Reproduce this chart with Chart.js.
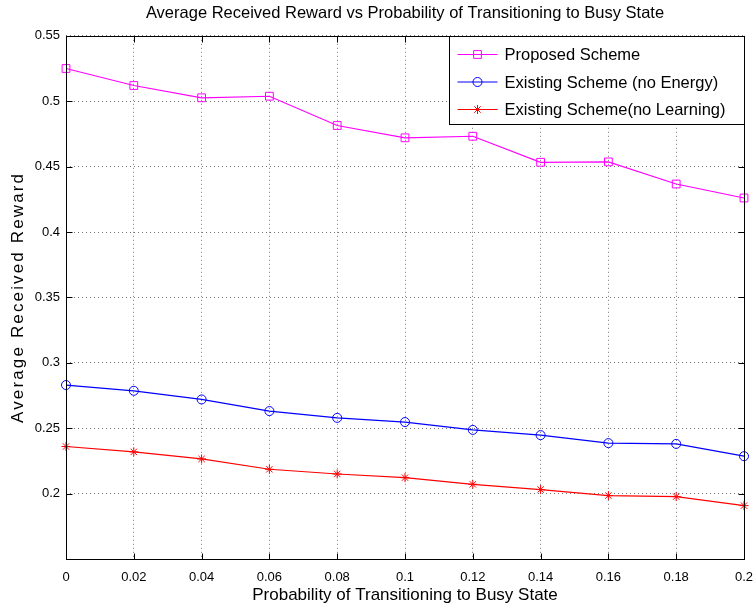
<!DOCTYPE html>
<html>
<head>
<meta charset="utf-8">
<title>Average Received Reward</title>
<script src="https://cdn.jsdelivr.net/npm/chart.js@4.4.0/dist/chart.umd.min.js"></script>
<style>
  html, body { margin: 0; padding: 0; background: #fff; }
  #box { width: 754px; height: 611px; }
</style>
</head>
<body>
<div id="box"><canvas id="graficoReward"></canvas></div>
<script>
// valores
const probLabels = ['0', '0.02', '0.04', '0.06', '0.08', '0.1', '0.12', '0.14', '0.16', '0.18', '0.2'];
const proposedScheme = [0.525, 0.512, 0.5026, 0.5038, 0.4814, 0.472, 0.4732, 0.4533, 0.4536, 0.4367, 0.426];
const noEnergyScheme = [0.283, 0.2786, 0.272, 0.2631, 0.2579, 0.2547, 0.2487, 0.2447, 0.2386, 0.238, 0.2286];
const noLearningScheme = [0.236, 0.2319, 0.2265, 0.2186, 0.215, 0.2122, 0.2071, 0.2031, 0.1985, 0.1977, 0.1908];
const yMin = 0.15;
const yMax = 0.55;
const yStep = 0.05;
const yTitulo = 'Average Received Reward';

const fonte = '"Liberation Sans", Arial, sans-serif';
Chart.defaults.font.family = fonte;
Chart.defaults.color = '#000';

function desenhaMarcador(ctx, estilo, x, y, r) {
    ctx.beginPath();
    if (estilo == 'rect') {
        const s = r * Math.SQRT1_2;
        ctx.rect(x - s, y - s, 2 * s, 2 * s);
    } else if (estilo == 'circle') {
        ctx.arc(x, y, r, 0, Math.PI * 2);
    } else {
        const d = r * Math.SQRT1_2;
        ctx.moveTo(x - r, y); ctx.lineTo(x + r, y);
        ctx.moveTo(x, y - r); ctx.lineTo(x, y + r);
        ctx.moveTo(x - d, y - d); ctx.lineTo(x + d, y + d);
        ctx.moveTo(x - d, y + d); ctx.lineTo(x + d, y - d);
    }
    ctx.stroke();
}

// caixa do eixo, ticks para dentro, titulo do eixo y e legenda no canto
const moldura = {
    id: 'moldura',
    afterDraw(chart) {
        const ctx = chart.ctx;
        const a = chart.chartArea;
        const xs = chart.scales.x;
        const ys = chart.scales.y;
        const L = Math.round(a.left) + 0.5, R = Math.round(a.right) + 0.5;
        const T = Math.round(a.top) + 0.5, B = Math.round(a.bottom) + 0.5;
        ctx.save();
        ctx.strokeStyle = '#000';
        ctx.lineWidth = 1;
        ctx.beginPath();
        for (let i = 0; i < xs.ticks.length; i++) {
            const px = Math.round(xs.getPixelForTick(i)) + 0.5;
            ctx.moveTo(px, B); ctx.lineTo(px, B - 6);
            ctx.moveTo(px, T); ctx.lineTo(px, T + 6);
        }
        for (let i = 0; i < ys.ticks.length; i++) {
            const py = Math.round(ys.getPixelForTick(i)) + 0.5;
            ctx.moveTo(L, py); ctx.lineTo(L + 6, py);
            ctx.moveTo(R, py); ctx.lineTo(R - 6, py);
        }
        ctx.stroke();
        ctx.strokeRect(L, T, R - L, B - T);

        // titulo do eixo y (mais espacado, como no original)
        ctx.save();
        ctx.font = '17px ' + fonte;
        ctx.fillStyle = '#000';
        ctx.textAlign = 'center';
        ctx.textBaseline = 'middle';
        const larg = ctx.measureText(yTitulo).width;
        if ('letterSpacing' in ctx) {
            ctx.letterSpacing = Math.max(0, (249 - larg) / (yTitulo.length - 1)).toFixed(2) + 'px';
        }
        ctx.translate(18, (a.top + a.bottom) / 2);
        ctx.rotate(-Math.PI / 2);
        ctx.fillText(yTitulo, 0, 0);
        ctx.restore();

        // legenda
        const lw = 295, lh = 88;
        const lx = R - lw, ly = T;
        ctx.fillStyle = '#fff';
        ctx.fillRect(lx, ly, lw, lh);
        ctx.strokeRect(lx, ly, lw, lh);
        ctx.font = '16.5px ' + fonte;
        ctx.textBaseline = 'middle';
        const ds = chart.data.datasets;
        for (let i = 0; i < ds.length; i++) {
            const yy = ly + 18 + i * 27.5;
            ctx.strokeStyle = ds[i].borderColor;
            ctx.lineWidth = 1.2;
            ctx.beginPath();
            ctx.moveTo(lx + 8, yy); ctx.lineTo(lx + 48, yy);
            ctx.stroke();
            ctx.lineWidth = 1;
            desenhaMarcador(ctx, ds[i].pointStyle, lx + 28, yy, ds[i].pointRadius);
            ctx.fillStyle = '#000';
            ctx.fillText(ds[i].label, lx + 55, yy + 1);
        }
        ctx.restore();
    }
};

const dataReward = {
    labels: probLabels,
    datasets: [{
        label: 'Proposed Scheme',
        data: proposedScheme,
        borderColor: '#ff00ff',
        pointBorderColor: '#ff00ff',
        pointBackgroundColor: 'rgba(0,0,0,0)',
        pointStyle: 'rect',
        pointRadius: 5.5,
        borderWidth: 1.2,
        pointBorderWidth: 1,
        tension: 0
    },
    {
        label: 'Existing Scheme (no Energy)',
        data: noEnergyScheme,
        borderColor: '#0000ff',
        pointBorderColor: '#0000ff',
        pointBackgroundColor: 'rgba(0,0,0,0)',
        pointStyle: 'circle',
        pointRadius: 4.5,
        borderWidth: 1.2,
        pointBorderWidth: 1,
        tension: 0
    },
    {
        label: 'Existing Scheme(no Learning)',
        data: noLearningScheme,
        borderColor: '#ff0000',
        pointBorderColor: '#ff0000',
        pointBackgroundColor: 'rgba(0,0,0,0)',
        pointStyle: 'star',
        pointRadius: 4.5,
        borderWidth: 1.2,
        pointBorderWidth: 1,
        tension: 0
    }]
};

const configReward = {
    type: 'line',
    data: dataReward,
    plugins: [moldura],
    options: {
        responsive: true,
        maintainAspectRatio: false,
        animation: false,
        layout: { padding: { left: 0, right: 0, top: 0, bottom: 0 } },
        plugins: {
            legend: { display: false },
            tooltip: { enabled: false },
            title: {
                display: true,
                fullSize: false,
                text: 'Average Received Reward vs Probability of Transitioning to Busy State',
                font: { size: 16.5, weight: 'normal' },
                padding: { top: 4, bottom: 12 }
            }
        },
        scales: {
            x: {
                offset: false,
                grid: { color: 'rgba(0,0,0,0.55)', lineWidth: 1, drawTicks: false },
                border: { display: false, dash: [1, 3] },
                ticks: { padding: 11, font: { size: 13 }, maxRotation: 0, autoSkip: false },
                title: { display: true, text: 'Probability of Transitioning to Busy State', font: { size: 17 }, padding: { top: 0, bottom: 5 } },
                afterFit: function (scale) {
                    scale.height = 52;
                    scale.paddingRight = 10;
                    scale.paddingLeft = 0;
                }
            },
            y: {
                min: yMin,
                max: yMax,
                grid: { color: 'rgba(0,0,0,0.55)', lineWidth: 1, drawTicks: false },
                border: { display: false, dash: [1, 3] },
                ticks: {
                    stepSize: yStep,
                    padding: 6,
                    font: { size: 13 },
                    callback: function (v) {
                        if (Math.abs(v - yMin) < 1e-9) return '';
                        return String(Number(v.toFixed(2)));
                    }
                },
                title: { display: false },
                afterFit: function (scale) { scale.width = 66; }
            }
        }
    }
};

const ctxReward = document.getElementById('graficoReward').getContext('2d');
let GraficoReward = new Chart(ctxReward, configReward);
</script>
</body>
</html>
